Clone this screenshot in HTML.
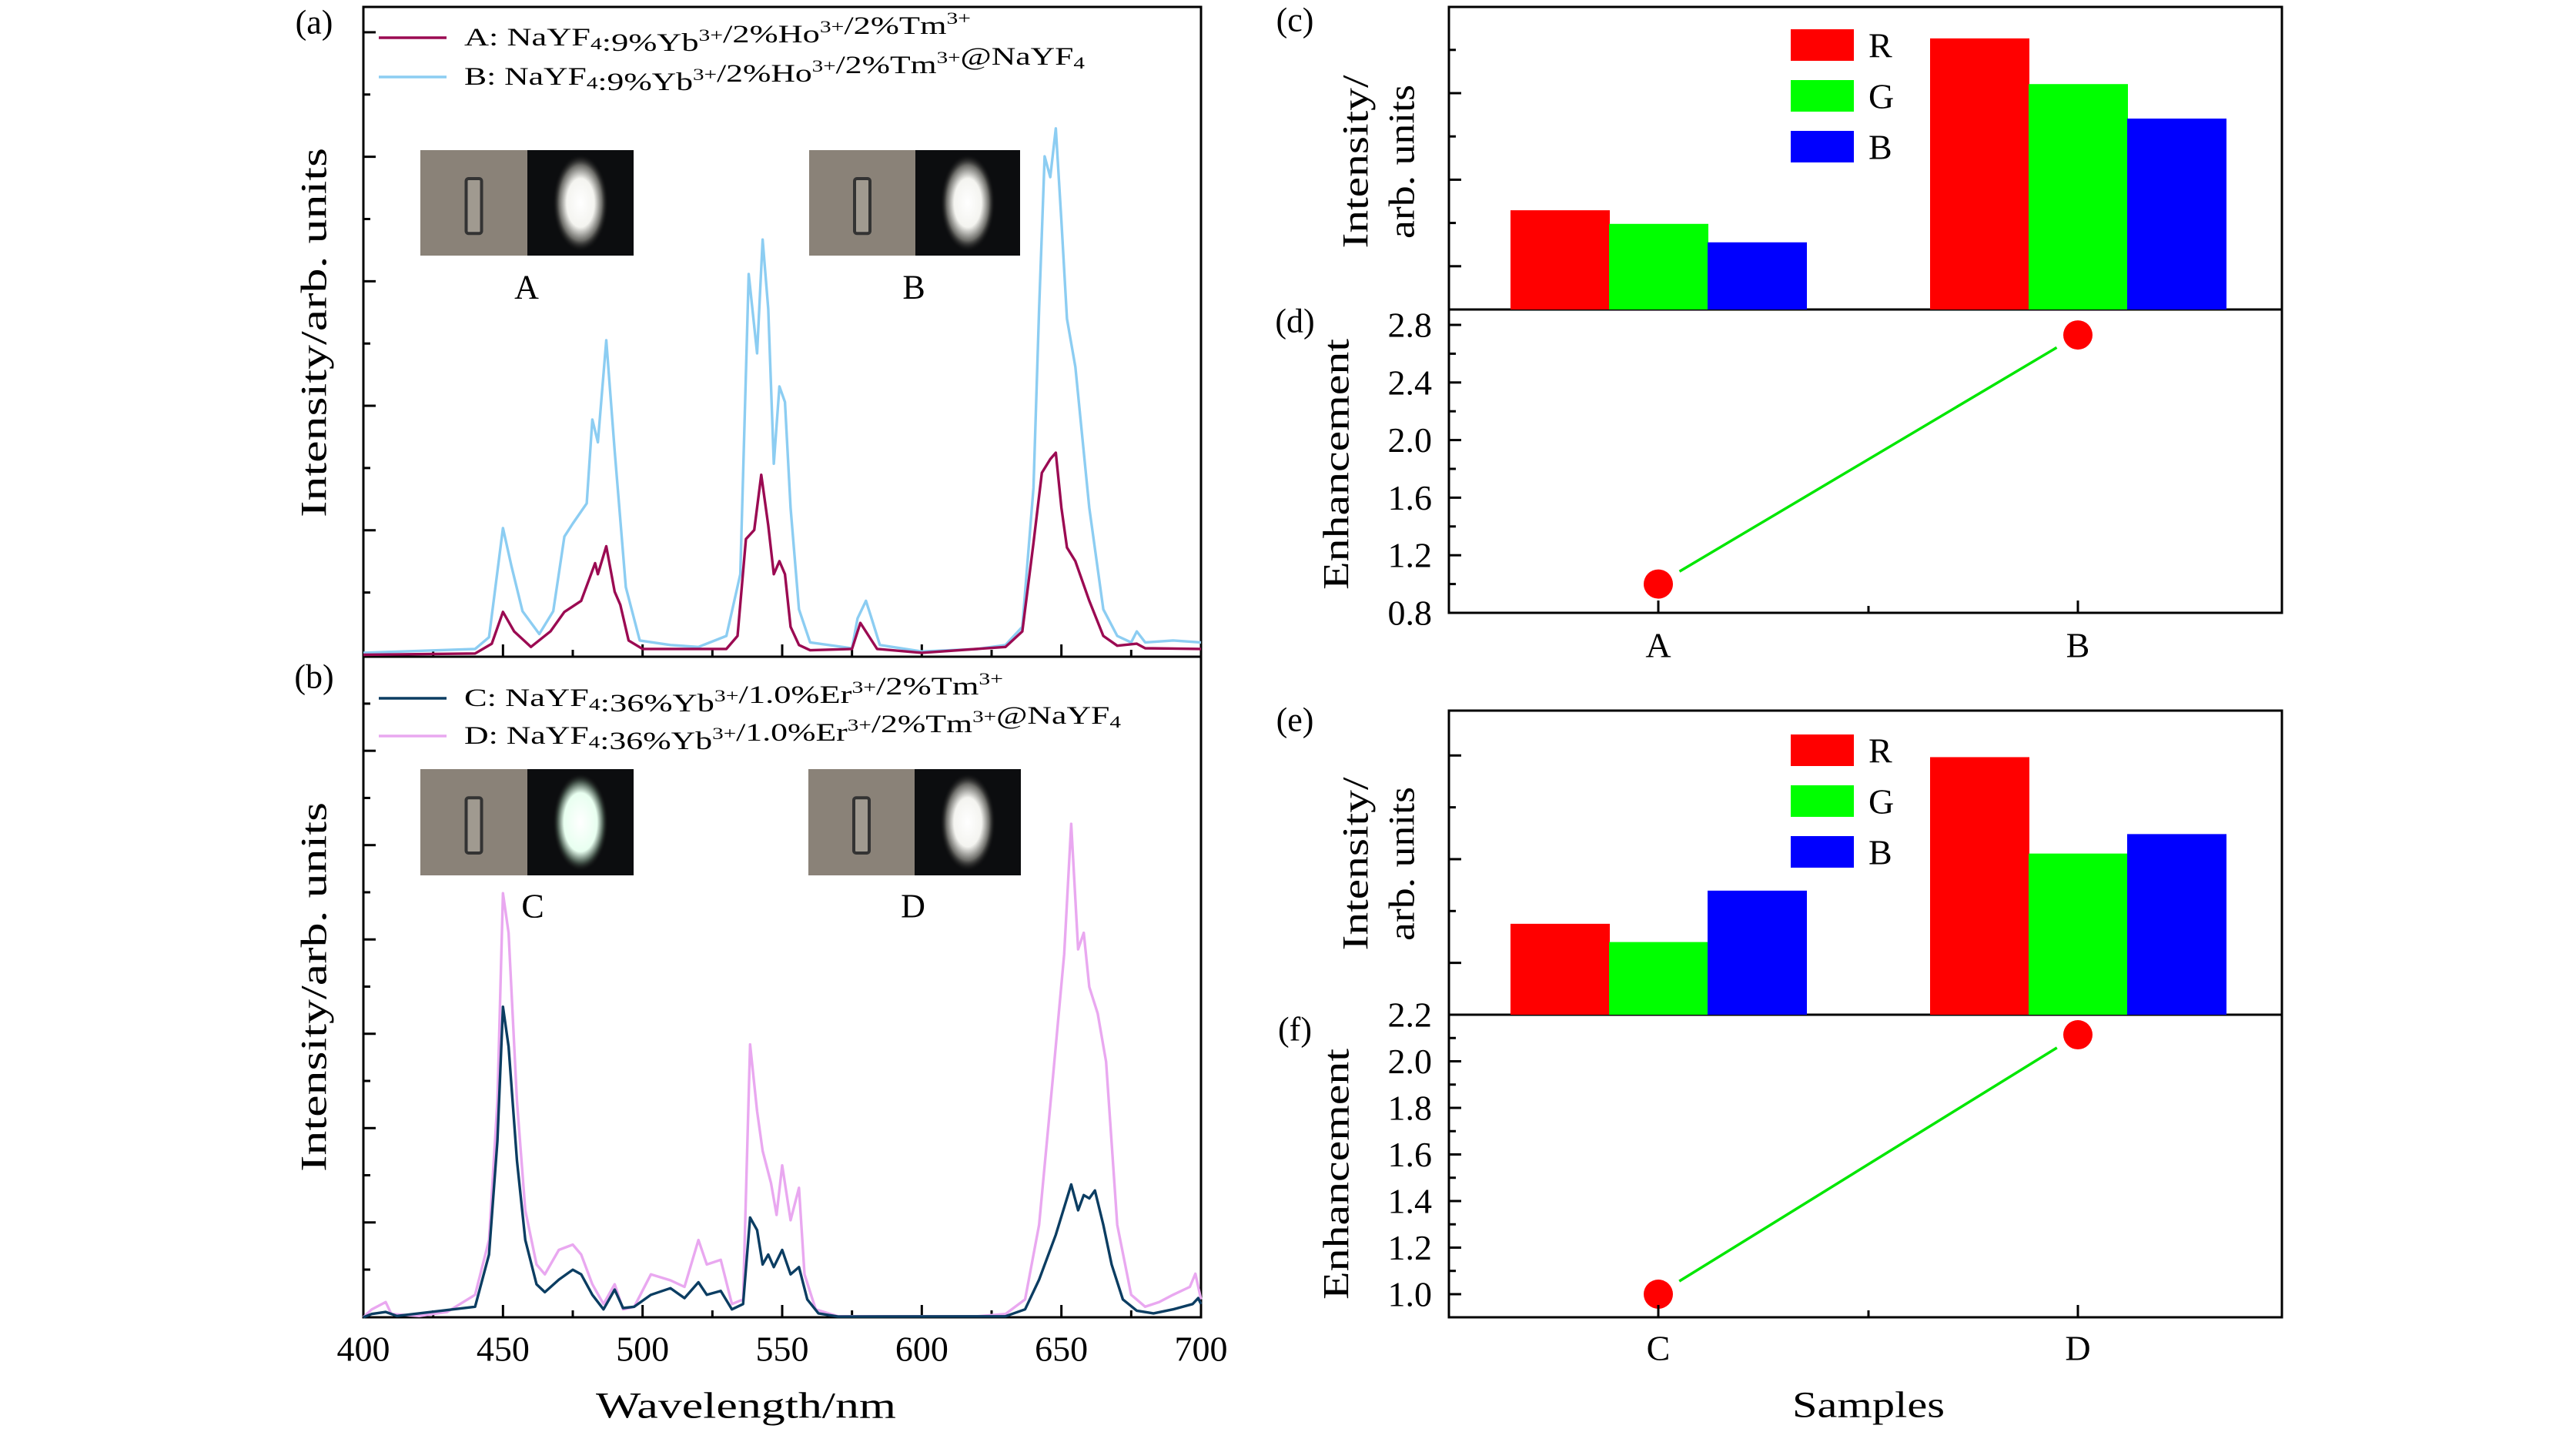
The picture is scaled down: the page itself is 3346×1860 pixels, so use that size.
<!DOCTYPE html>
<html><head><meta charset="utf-8">
<style>
html,body{margin:0;padding:0;background:#fff;}
svg{display:block;font-family:"Liberation Serif",serif;}
text{font-family:"Liberation Serif",serif;}
</style></head>
<body>
<svg id="fig" width="3346" height="1860" viewBox="0 0 3346 1860" xmlns="http://www.w3.org/2000/svg">
<defs>
<radialGradient id="glowW" cx="50%" cy="50%" r="50%">
<stop offset="0%" stop-color="#ffffff"/><stop offset="50%" stop-color="#f4f4f0"/><stop offset="78%" stop-color="#6a6a66"/><stop offset="100%" stop-color="#111" stop-opacity="0"/></radialGradient>
<radialGradient id="glowG" cx="50%" cy="50%" r="50%">
<stop offset="0%" stop-color="#ffffff"/><stop offset="60%" stop-color="#e8fff0"/><stop offset="82%" stop-color="#4a5a50"/><stop offset="100%" stop-color="#111" stop-opacity="0"/></radialGradient>
</defs>
<g id="root"></g>
</svg>
<script>
// ---------- data ----------
const waveA = [400,440,446,450,454,460,467,472,478,483,484,487,490,492,495,500,530,534,537,540,542.5,545,547,549,551,553,556,560,575,578,581,584,600,630,636,640,643,646,648,650,652,655,660,665,670,677,680,700];
const intA  = [0.3,0.5,2,6.9,3.9,1.5,3.9,6.9,8.6,14.4,12.7,17,10,8,2.5,1.2,1.2,3.2,18.1,19.5,28,20.2,12.7,14.7,12.7,4.6,1.8,1,1.2,5.2,3.2,1.2,0.6,1.5,3.9,17.5,28.3,30.4,31.4,22.9,16.8,14.7,8.6,3.2,1.7,2,1.3,1.2];
const waveB = [400,440,445,450,453,457,463,468,472,475,480,482,484,487,490,494,499,510,520,530,535,538,541,543,545,547,549,551,553,556,560,575,577,580,582,585,600,620,630,636,640,642,644,646,648,650,652,655,660,665,670,675,677,680,690,700];
const intB  = [0.6,1.2,3,19.8,14,7,3.5,7,18.5,20.5,23.6,36.5,33,48.7,31.7,10.7,2.5,1.8,1.5,3.2,12.7,58.9,46.7,64.2,53.5,29.7,41.6,39.2,22.9,7.3,2.2,1.3,5.9,8.6,5.9,1.8,0.8,1.2,1.8,4.6,26,53.5,77,73.8,81.3,67,52,44.6,22.9,7.3,3.2,2.2,3.9,2.2,2.5,2.2];
const waveC = [400,403,408,412,440,445,448,450,452,455,458,462,465,470,475,478,482,486,490,493,497,503,510,515,520,523,528,532,536,538.5,541,543,545,547,550,553,556,559,563,570,630,637,642,648,653.5,656,658,660,662,665,668,672,677,683,690,697,699,700];
const intC  = [0,0.5,0.8,0.2,1.6,9.5,26.7,47,41,23.7,11.7,5,3.8,5.7,7.2,6.5,3.4,1.2,4.2,1.4,1.6,3.4,4.4,2.9,5.3,3.4,4,1.2,2,15.1,13.2,8,9.5,7.6,10.2,6.5,7.6,2.7,0.6,0.1,0.15,1.2,5.7,12.5,20.1,16.2,18.5,18,19.2,14,8,2.7,1,0.6,1.2,2,2.9,2];
const waveD = [400,403,408,410,420,430,440,445,448,450,452,455,458,462,465,470,475,478,482,486,490,493,497,503,510,515,520,523,528,532,536,538.5,541,543,546,548,550,553,556,558,562,570,600,620,630,637,642,647,651,653.5,656,658,660,663,666,670,675,680,685,690,696,698,700];
const intD  = [0,1.2,2.3,0.5,0.2,0.8,3.4,11.7,32.7,64.2,58.2,32.7,16.2,8,6.5,10.2,11,9.5,5,2,5,1.2,1.6,6.5,5.6,4.6,11.7,8,8.7,2,2.7,41.3,31.2,25.2,20.3,15.5,23,14.7,19.6,6.5,1.2,0.15,0.15,0.15,0.5,2.7,14,36.5,55,74.7,55.7,58.2,50,46,38.7,14,3.4,1.6,2.3,3.4,4.6,6.6,2.7];
const xTickLabels = ["400","450","500","550","600","650","700"];
const samplesTop = ["A","B"];
const samplesBot = ["C","D"];
const barsTopR = [32.8,89.6], barsTopG = [28.3,74.5], barsTopB = [22.2,63.1];
const barsBotR = [29.9,84.7], barsBotG = [23.9,53.0], barsBotB = [40.8,59.4];
const enhTop = [1.0,2.73];
const enhBot = [1.0,2.114];
const enhTopTicks = ["0.8","1.2","1.6","2.0","2.4","2.8"];
const enhBotTicks = ["1.0","1.2","1.4","1.6","1.8","2.0","2.2"];

// ---------- helpers ----------
const NS="http://www.w3.org/2000/svg";
const FONT='"Liberation Serif", serif';
const root=document.getElementById('root');
function mk(tag,attrs,parent){const e=document.createElementNS(NS,tag);for(const k in attrs)e.setAttribute(k,attrs[k]);(parent||root).appendChild(e);return e;}
function txt(s,x,y,size,anchor,rot,name,tl){const t=mk('text',{x:x,y:y,'font-size':size,'font-family':FONT,'text-anchor':anchor||'middle','dominant-baseline':'central',fill:'#000'});
 if(tl){t.setAttribute('textLength',tl);t.setAttribute('lengthAdjust','spacingAndGlyphs');}
 if(rot)t.setAttribute('transform','rotate(-90 '+x+' '+y+')');t.textContent=s;
 
 
 return t;}

// ---------- spectrum panels ----------
const L=472,R=1560;
function xw(w){return L+(w-400)*(R-L)/300;}
function yaF(v){return 853-v*8.44;}
function ybF(v){return 1711-v*8.58;}
function series(ws,vs,yf,color,name){
 let d='';for(let i=0;i<ws.length;i++){d+=(i?'L':'M')+xw(ws[i]).toFixed(1)+' '+yf(vs[i]).toFixed(1);}
 const p=mk('path',{d:d,fill:'none',stroke:color,'stroke-width':3.4,'stroke-linejoin':'round'});
 
 
}
const fa=mk('rect',{x:L,y:9,width:R-L,height:844,fill:'none',stroke:'#000','stroke-width':3});


const fb=mk('rect',{x:L,y:853,width:R-L,height:858,fill:'none',stroke:'#000','stroke-width':3});


for(let k=0;k<10;k++){const v=96.1-k*9.58;const y=yaF(v);mk('line',{x1:L,y1:y,x2:L+(k%2==0?16:9),y2:y,stroke:'#000','stroke-width':3});}
for(let k=0;k<13;k++){const v=92.9-k*7.14;const y=ybF(v);mk('line',{x1:L,y1:y,x2:L+(k%2==1?16:9),y2:y,stroke:'#000','stroke-width':3});}
for(let w=425;w<700;w+=25){const big=(w%50==0);const x=xw(w);
 mk('line',{x1:x,y1:853,x2:x,y2:853-(big?16:9),stroke:'#000','stroke-width':3});
 mk('line',{x1:x,y1:1711,x2:x,y2:1711-(big?16:9),stroke:'#000','stroke-width':3});}
xTickLabels.forEach((s,i)=>{txt(s,xw(400+50*i),1752,46,'middle',false,'x-tick-label');});
txt('Wavelength/nm',969,1826,48,'middle',false,'x-axis-title',390);
txt('Intensity/arb. units',408,432,48,'middle',true,'y-axis-title-a',480);
txt('Intensity/arb. units',408,1282,48,'middle',true,'y-axis-title-b',480);
txt('(a)',408,29,44,'middle',false,'panel-label-a');
txt('(b)',408,879,44,'middle',false,'panel-label-b');

function photo(x,y,w,h,split,grad,name){
 const g=mk('g',{});
 mk('rect',{x:x,y:y,width:split-x,height:h,fill:'#8a8278'},g);
 const cx=(x+split)/2;
 mk('rect',{x:cx-10,y:y+h*0.27,width:20,height:h*0.52,rx:3,fill:'#a09a90',stroke:'#333','stroke-width':4},g);
 mk('rect',{x:split,y:y,width:x+w-split,height:h,fill:'#0c0d0f'},g);
 const gx=(split+x+w)/2;
 mk('ellipse',{cx:gx,cy:y+h/2,rx:(x+w-split)*0.26,ry:h*0.46,fill:'url(#'+grad+')'},g);
}
photo(546,195,277,137,685,'glowW','inset-photo-a');
photo(1051,195,274,137,1189,'glowW','inset-photo-b');
photo(546,999,277,138,685,'glowG','inset-photo-c');
photo(1050,999,276,138,1188,'glowW','inset-photo-d');
txt('A',684,373,44,'middle',false,'inset-label-a');
txt('B',1187,373,44,'middle',false,'inset-label-b');
txt('C',692,1177,44,'middle',false,'inset-label-c');
txt('D',1186,1177,44,'middle',false,'inset-label-d');

function legLine(y,color,label,name,tl){
 const l=mk('line',{x1:492,y1:y,x2:580,y2:y,stroke:color,'stroke-width':3.4});
 
 
 const t=mk('text',{x:603,y:y,'font-size':33,'font-family':FONT,'dominant-baseline':'central',fill:'#000',textLength:tl,lengthAdjust:'spacingAndGlyphs'});
 t.innerHTML=label;
 
 
}
const sup=s=>'<tspan dy="-11" font-size="22">'+s+'</tspan><tspan dy="11"></tspan>';
const sub=s=>'<tspan dy="7" font-size="22">'+s+'</tspan><tspan dy="-7"></tspan>';
legLine(49,'#9b0a52','A: NaYF'+sub('4')+':9%Yb'+sup('3+')+'/2%Ho'+sup('3+')+'/2%Tm'+sup('3+'),'legend-entry-a',658);
legLine(100,'#8ccdf2','B: NaYF'+sub('4')+':9%Yb'+sup('3+')+'/2%Ho'+sup('3+')+'/2%Tm'+sup('3+')+'@NaYF'+sub('4'),'legend-entry-b',806);
legLine(907,'#0b3d62','C: NaYF'+sub('4')+':36%Yb'+sup('3+')+'/1.0%Er'+sup('3+')+'/2%Tm'+sup('3+'),'legend-entry-c',700);
legLine(956,'#e9a8f0','D: NaYF'+sub('4')+':36%Yb'+sup('3+')+'/1.0%Er'+sup('3+')+'/2%Tm'+sup('3+')+'@NaYF'+sub('4'),'legend-entry-d',853);

series(waveB,intB,yaF,'#8ccdf2','series-b');
series(waveA,intA,yaF,'#9b0a52','series-a');
series(waveD,intD,ybF,'#e9a8f0','series-d');
series(waveC,intC,ybF,'#0b3d62','series-c');

// ---------- right panels ----------
const RL=1882,RR=2964;
const catX=[2154,2699];
function barPanel(top,bot,rv,gv,bv,tickStart,tickStep,nT,legTop,tag){
 const h=bot-top;const yf=v=>bot-v*h/100;
 const cols=['#ff0000','#00ff00','#0000ff'];const sets=[rv,gv,bv];const nm=['r','g','b'];
 for(let s=0;s<3;s++)for(let i=0;i<2;i++){
  const x0=catX[i]-192+128*s;const r=mk('rect',{x:x0,y:yf(sets[s][i]),width:129,height:bot-yf(sets[s][i]),fill:cols[s]});
  
  
 }
 for(let k=0;k<nT;k++){const y=yf(tickStart+k*tickStep);if(y<top+4)continue;mk('line',{x1:RL,y1:y,x2:RL+(k%2==0?16:9),y2:y,stroke:'#000','stroke-width':3});}
 const labs=['R','G','B'];
 for(let s=0;s<3;s++){const y=legTop+s*66;
  const b=mk('rect',{x:2326,y:y,width:82,height:41,fill:cols[s]});
  
  
  txt(labs[s],2427,y+21,46,'start',false,'legend-label-'+tag+'-'+nm[s]);}
}
function enhPanel(top,bot,vals,yf,ticksLab,tickVals,minorStep,vmin,vmax,tag){
 const y1=yf(vals[0]),y2=yf(vals[1]);const x1=catX[0],x2=catX[1];
 const dx=x2-x1,dy=y2-y1,len=Math.hypot(dx,dy),ux=dx/len,uy=dy/len,g=32;
 const ln=mk('line',{x1:x1+ux*g,y1:y1+uy*g,x2:x2-ux*g,y2:y2-uy*g,stroke:'#00e600','stroke-width':3.5});
 
 
 vals.forEach((v,i)=>{const c=mk('ellipse',{cx:catX[i],cy:yf(v),rx:19,ry:19,fill:'#ff0000'});
  
  });
 for(let v=vmin;v<=vmax+1e-6;v+=minorStep){const y=yf(v);if(y<top+2||y>bot-2)continue;
  const major=tickVals.some(t=>Math.abs(t-v)<1e-6);mk('line',{x1:RL,y1:y,x2:RL+(major?16:9),y2:y,stroke:'#000','stroke-width':3});}
 ticksLab.forEach((s,i)=>{txt(s,1860,yf(tickVals[i]),46,'end',false,'y-tick-label-'+tag);});
}
[[9,402,'panel-c-frame'],[402,796,'panel-d-frame'],[923,1318,'panel-e-frame'],[1318,1711,'panel-f-frame']].forEach(f=>{
 const r=mk('rect',{x:RL,y:f[0],width:RR-RL,height:f[1]-f[0],fill:'none',stroke:'#000','stroke-width':3});
 
 });
barPanel(9,402,barsTopR,barsTopG,barsTopB,14.3,14.3,7,38,'c');
barPanel(923,1318,barsBotR,barsBotG,barsBotB,17.05,17.05,6,954,'e');
const ydF=v=>796-(v-0.8)*187;
const yfF=v=>1681-(v-1.0)*302.5;
enhPanel(402,796,enhTop,ydF,enhTopTicks,enhTopTicks.map(Number),0.2,0.8,2.9,'d');
enhPanel(1318,1711,enhBot,yfF,enhBotTicks,enhBotTicks.map(Number),0.1,0.9,2.2,'f');
[[796],[1711]].forEach(b=>{catX.forEach(x=>mk('line',{x1:x,y1:b[0],x2:x,y2:b[0]-16,stroke:'#000','stroke-width':3}));
 mk('line',{x1:2427,y1:b[0],x2:2427,y2:b[0]-9,stroke:'#000','stroke-width':3});});
samplesTop.forEach((s,i)=>txt(s,catX[i],838,46,'middle',false,'x-tick-label-d'));
samplesBot.forEach((s,i)=>txt(s,catX[i],1751,46,'middle',false,'x-tick-label-f'));
txt('Samples',2427,1825,48,'middle',false,'x-axis-title-samples',198);
txt('Intensity/',1761,210,48,'middle',true,'y-axis-title-c-line1',225);
txt('arb. units',1821,210,48,'middle',true,'y-axis-title-c-line2',200);
txt('Intensity/',1761,1122,48,'middle',true,'y-axis-title-e-line1',225);
txt('arb. units',1821,1122,48,'middle',true,'y-axis-title-e-line2',200);
txt('Enhancement',1736,603,48,'middle',true,'y-axis-title-d',326);
txt('Enhancement',1736,1525,48,'middle',true,'y-axis-title-f',326);
txt('(c)',1682,26,44,'middle',false,'panel-label-c');
txt('(d)',1682,417,44,'middle',false,'panel-label-d');
txt('(e)',1682,935,44,'middle',false,'panel-label-e');
txt('(f)',1682,1337,44,'middle',false,'panel-label-f');
</script>
</body></html>
